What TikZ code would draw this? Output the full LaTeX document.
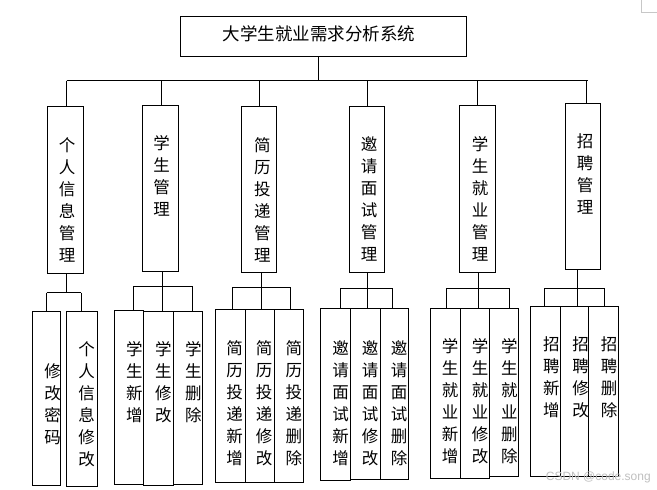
\documentclass[tikz,border=0pt]{standalone}
\usepackage{fontspec}
\newfontfamily\cjk{Noto Sans CJK SC}
\setsansfont{Liberation Sans}
\newcommand\mkbox[5]{\node[boxst, minimum width={(#3)-(#2)}, minimum height={(#5)-(#4)}] (#1) at ({((#2)+(#3))/2},{((#4)+(#5))/2}) {};}
\begin{document}
\begin{tikzpicture}[x=1pt,y=-1pt,
  boxst/.style={draw=black, line width=0.9pt, inner sep=0pt},
  vt/.style={font=\cjk\fontsize{16.5}{22}\selectfont, align=center, inner sep=0pt, anchor=north},
  conn/.style={draw=black, line width=0.9pt}]
\useasboundingbox (0,0) rectangle (657,490);
% root
\mkbox{root}{180}{466.3}{16.7}{56}
\node[font=\cjk\fontsize{17.5}{20}\selectfont, inner sep=0pt] (title) at (318.8,34.2) {大学生就业需求分析系统};
% level 2 boxes
\mkbox{b1}{47.3}{83.3}{106}{273}
\mkbox{b2}{142.3}{178.3}{105}{271.7}
\mkbox{b3}{241.3}{276.3}{106}{272.3}
\mkbox{b4}{349.3}{384.3}{106}{272.3}
\mkbox{b5}{459.3}{495.3}{105}{272.3}
\mkbox{b6}{565.3}{600.3}{103.3}{269.3}
\node[vt] (t1) at (67,137) {个\\人\\信\\息\\管\\理};
\node[vt] (t2) at (161.7,135) {学\\生\\管\\理};
\node[vt] (t3) at (262.3,137) {简\\历\\投\\递\\管\\理};
\node[vt] (t4) at (369,136.7) {邀\\请\\面\\试\\管\\理};
\node[vt] (t5) at (480,136.7) {学\\生\\就\\业\\管\\理};
\node[vt] (t6) at (585,133.3) {招\\聘\\管\\理};
% level 3 boxes
\mkbox{c11}{32.3}{60.3}{311.7}{485}
\mkbox{c12}{66.7}{97.3}{311.7}{486}
\mkbox{c21}{114.3}{143.3}{310.7}{484.3}
\mkbox{c22}{143.3}{173.3}{311.7}{485.7}
\mkbox{c23}{173.3}{202.3}{311.7}{484.3}
\mkbox{c31}{215.7}{245}{309.3}{482}
\mkbox{c32}{245}{274.3}{309.3}{482}
\mkbox{c33}{274.3}{303.3}{309.3}{482}
\mkbox{c41}{320}{350.7}{308.3}{480.7}
\mkbox{c42}{350.7}{380}{308.3}{479.3}
\mkbox{c43}{380}{408.7}{308.3}{479.3}
\mkbox{c51}{430.7}{460}{308.3}{478.3}
\mkbox{c52}{460}{489.3}{308.3}{478.3}
\mkbox{c53}{489.3}{518.7}{308.3}{476.7}
\mkbox{c61}{530.7}{560.3}{306.7}{476}
\mkbox{c62}{560.3}{588.3}{306.7}{476}
\mkbox{c63}{588.3}{618.7}{306.7}{476}
% level 3 texts
\node[vt] (s11) at (52.5,363) {修\\改\\密\\码};
\node[vt] (s12) at (86.7,341.7) {个\\人\\信\\息\\修\\改};
\node[vt] (s21) at (134.3,341.7) {学\\生\\新\\增};
\node[vt] (s22) at (163.3,341.7) {学\\生\\修\\改};
\node[vt] (s23) at (193.3,341.7) {学\\生\\删\\除};
\node[vt] (s31) at (234.7,340) {简\\历\\投\\递\\新\\增};
\node[vt] (s32) at (264,340) {简\\历\\投\\递\\修\\改};
\node[vt] (s33) at (293.8,340) {简\\历\\投\\递\\删\\除};
\node[vt] (s41) at (340.5,340) {邀\\请\\面\\试\\新\\增};
\node[vt] (s42) at (370,340) {邀\\请\\面\\试\\修\\改};
\node[vt] (s43) at (399,340) {邀\\请\\面\\试\\删\\除};
\node[vt] (s51) at (450,338) {学\\生\\就\\业\\新\\增};
\node[vt] (s52) at (480,338) {学\\生\\就\\业\\修\\改};
\node[vt] (s53) at (509.3,338) {学\\生\\就\\业\\删\\除};
\node[vt] (s61) at (551.3,336.7) {招\\聘\\新\\增};
\node[vt] (s62) at (580.5,336.7) {招\\聘\\修\\改};
\node[vt] (s63) at (609,336.7) {招\\聘\\删\\除};
% level 1 -> 2 connectors
\coordinate (bus0) at (318.7,80.7);
\coordinate (u1) at (66.7,80.7);
\coordinate (u2) at (161.7,80.7);
\coordinate (u3) at (259.3,80.7);
\coordinate (u4) at (367.3,80.7);
\coordinate (u5) at (477.3,80.7);
\coordinate (u6) at (586.7,80.7);
\coordinate (busR) at (587.7,80.7);
\draw[conn] (bus0 |- root.south) -- (bus0);
\draw[conn] (u1) -- (busR);
\foreach \i in {1,...,6} {\draw[conn] (u\i) -- (u\i |- b\i.north);}
% group 1
\coordinate (v1) at (66,292.7);
\coordinate (g1a) at (46.7,292.7);
\coordinate (g1b) at (81.3,292.7);
\draw[conn] (v1 |- b1.south) -- (v1);
\draw[conn] (g1a) -- (g1b);
\draw[conn] (g1a) -- (g1a |- c11.north);
\draw[conn] (g1b) -- (g1b |- c12.north);
% group 2
\coordinate (g2a) at (133.3,286);
\coordinate (v2) at (162,286);
\coordinate (g2c) at (192.3,286);
\draw[conn] (v2 |- b2.south) -- (v2 |- c22.north);
\draw[conn] (g2a) -- (g2c);
\draw[conn] (g2a) -- (g2a |- c21.north);
\draw[conn] (g2c) -- (g2c |- c23.north);
% group 3
\coordinate (g3a) at (232.7,287.3);
\coordinate (v3) at (261.7,287.3);
\coordinate (g3c) at (290.3,287.3);
\draw[conn] (v3 |- b3.south) -- (v3 |- c32.north);
\draw[conn] (g3a) -- (g3c);
\draw[conn] (g3a) -- (g3a |- c31.north);
\draw[conn] (g3c) -- (g3c |- c33.north);
% group 4
\coordinate (g4a) at (340.7,288.3);
\coordinate (v4) at (367.3,288.3);
\coordinate (g4c) at (392.3,288.3);
\draw[conn] (v4 |- b4.south) -- (v4 |- c42.north);
\draw[conn] (g4a) -- (g4c);
\draw[conn] (g4a) -- (g4a |- c41.north);
\draw[conn] (g4c) -- (g4c |- c43.north);
% group 5
\coordinate (g5a) at (446.7,288.3);
\coordinate (v5) at (478.3,288.3);
\coordinate (g5c) at (509,288.3);
\draw[conn] (v5 |- b5.south) -- (v5 |- c52.north);
\draw[conn] (g5a) -- (g5c);
\draw[conn] (g5a) -- (g5a |- c51.north);
\draw[conn] (g5c) -- (g5c |- c53.north);
% group 6
\coordinate (g6a) at (544.3,288.3);
\coordinate (v6) at (577.3,288.3);
\coordinate (g6c) at (604.3,288.3);
\draw[conn] (v6 |- b6.south) -- (v6 |- c62.north);
\draw[conn] (g6a) -- (g6c);
\draw[conn] (g6a) -- (g6a |- c61.north);
\draw[conn] (g6c) -- (g6c |- c63.north);
% page corner mark and watermark
\draw[black!22, line width=0.6pt] (641,0) -- (641,12.3) -- (657,12.3);
\node[font=\sffamily\fontsize{12}{12}\selectfont, text=black!25, inner sep=0pt] (wm) at (598.3,477.5) {CSDN @code.song};
\end{tikzpicture}
\end{document}
